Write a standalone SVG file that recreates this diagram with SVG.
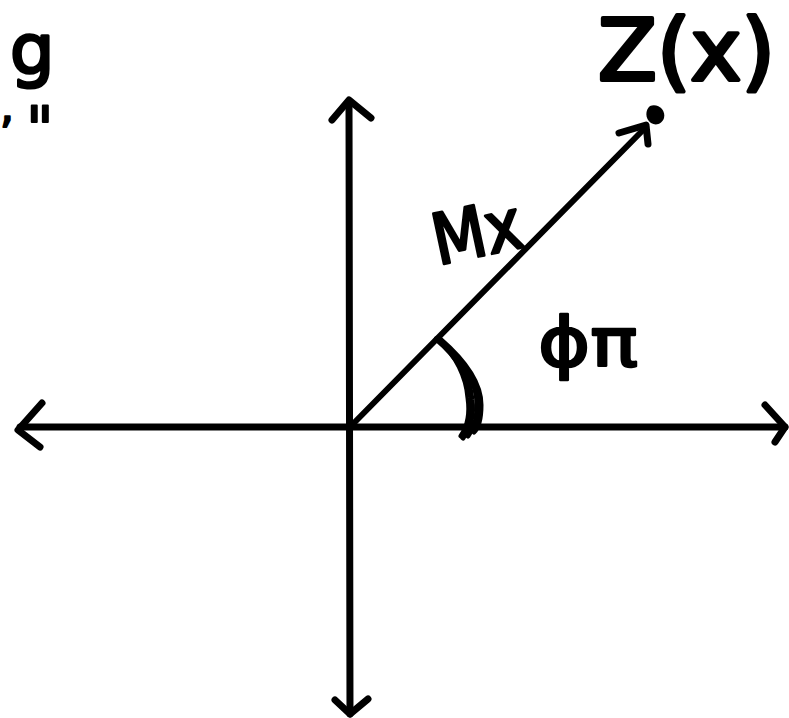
<svg xmlns="http://www.w3.org/2000/svg" width="789" height="718" viewBox="0 0 789 718">
<style>
.ink{fill:none;stroke:#000;stroke-width:7;stroke-linecap:round;stroke-linejoin:round}
.thin{fill:none;stroke:#000;stroke-width:6;stroke-linecap:round;stroke-linejoin:round}
.arc{fill:none;stroke:#000;stroke-width:5;stroke-linecap:round;stroke-linejoin:round}
.lbl{font-family:"DejaVu Sans","Liberation Sans",sans-serif;fill:#000;stroke:#000;stroke-linejoin:round}
</style>
<rect width="789" height="718" fill="#fff"/>
<g id="connectors">
  <g id="x-axis">
    <path class="ink" d="M20 427 L785 427"/>
    <path class="ink" d="M42 403 L18 430 L40 447"/>
    <path class="ink" d="M765 405 L785 427 L775 442"/>
  </g>
  <g id="y-axis">
    <path class="ink" d="M349 102 L350 714"/>
    <path class="ink" d="M332 120 L349 100 L371 118"/>
    <path class="ink" d="M335 700 L350 714 L368 699"/>
  </g>
  <g id="vector">
    <path class="thin" d="M349 428 L646 127"/>
    <path class="ink" d="M619 133 L646 125 L648 144"/>
  </g>
  <g id="angle-arc">
    <path class="arc" d="M436 339 C455 355 470 375 472 400 C474 415 470 428 463 438"/>
    <path class="arc" d="M440 339 C462 358 481 382 481 405 C481 420 478 428 474 432"/>
    <path class="arc" d="M438 338 C452 352 466 372 468 398 C470 412 468 426 461 436"/>
    <path class="arc" d="M439 339 C458 356 476 378 477 402 C478 416 474 428 468 436"/>
  </g>
</g>
<g id="point-Z">
  <path d="M650 106 C658 103 666 110 664 118 C662 124 656 126 651 123 C645 119 645 110 650 106 Z" fill="#000"/>
</g>
<g id="label-Zx">
  <text class="lbl" x="598" y="80" font-size="86" stroke-width="4" textLength="177" lengthAdjust="spacingAndGlyphs">Z(x)</text>
</g>
<g id="label-Mx">
  <text class="lbl" x="438" y="265" font-size="70" stroke-width="3" textLength="90" lengthAdjust="spacingAndGlyphs" transform="rotate(-12 438 265)">Mx</text>
</g>
<g id="label-phipi">
  <text class="lbl" x="538" y="366" font-size="68" stroke-width="2.5" textLength="100" lengthAdjust="spacingAndGlyphs">ϕπ</text>
</g>
<g id="label-topleft">
  <text class="lbl" x="10" y="74" font-size="70" stroke-width="3">g</text>
  <text class="lbl" x="0" y="122" font-size="44" stroke-width="2">,</text>
  <text class="lbl" x="26" y="150" font-size="60" stroke-width="2">"</text>
</g>
</svg>
